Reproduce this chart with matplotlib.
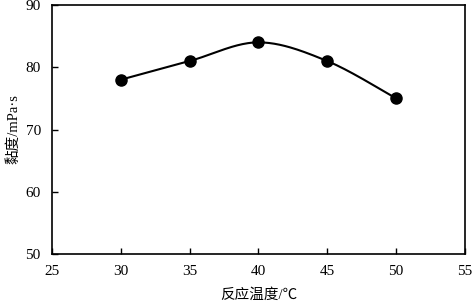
import matplotlib
matplotlib.use("Agg")
import matplotlib.pyplot as plt
import numpy as np

# Data
temperature = [30, 35, 40, 45, 50]
viscosity = [78, 81, 84, 81, 75]

x_ticks = [25, 30, 35, 40, 45, 50, 55]
y_ticks = [50, 60, 70, 80, 90]

fonts = ['Liberation Serif', 'Noto Sans CJK SC']
plt.rcParams['font.family'] = fonts


def smooth(xs, ys, n=40):
    """Catmull-Rom style smoothing (like Excel smoothed lines)"""
    p = np.column_stack([xs, ys]).astype(float)
    p = np.vstack([p[0], p, p[-1]])
    out = []
    for i in range(1, len(p) - 2):
        p0, p1, p2, p3 = p[i - 1], p[i], p[i + 1], p[i + 2]
        c1 = p1 + (p2 - p0) / 6
        c2 = p2 - (p3 - p1) / 6
        t = np.linspace(0, 1, n)[:, None]
        seg = ((1 - t) ** 3) * p1 + 3 * ((1 - t) ** 2) * t * c1 \
            + 3 * (1 - t) * t ** 2 * c2 + t ** 3 * p2
        out.append(seg)
    out = np.vstack(out)
    return out[:, 0], out[:, 1]


fig = plt.figure(figsize=(4.72, 3.04), dpi=100)
ax = fig.add_axes([0.110, 0.1645, 0.875, 0.819])

sx, sy = smooth(temperature, viscosity)
ax.plot(sx, sy, color='black', lw=1.5)
ax.plot(temperature, viscosity, 'o', color='black', ms=8)

ax.set_xlim(25, 55)
ax.set_ylim(50, 90)
ax.set_xticks(x_ticks)
ax.set_yticks(y_ticks)
ax.tick_params(direction='in', length=4, width=1, labelsize=11, pad=8)
for s in ax.spines.values():
    s.set_linewidth(1.2)

ax.set_xlabel('反应温度/℃', fontsize=10.5, labelpad=7)
ax.set_ylabel('黏度/mPa·s', fontsize=10.5, labelpad=4)

fig.savefig('out.png', dpi=100)
